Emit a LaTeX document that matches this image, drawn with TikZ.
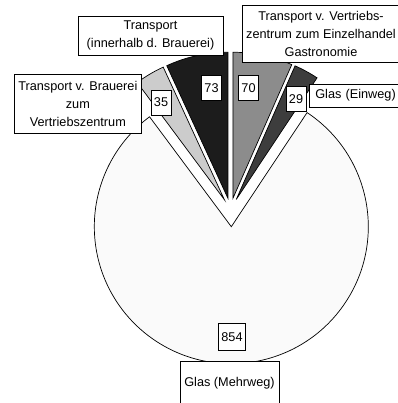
\documentclass[tikz,border=0pt]{standalone}
\usepackage{fontspec}
\setmainfont{Liberation Sans}
\usetikzlibrary{calc}
\definecolor{cMehr}{gray}{0.98}
\definecolor{cVZ}{gray}{0.55}
\definecolor{cEin}{gray}{0.24}
\definecolor{cBV}{gray}{0.80}
\definecolor{cIn}{gray}{0.11}
\begin{document}
\begin{tikzpicture}[x=1pt,y=1pt,
  slice/.style={draw=black, line width=0.7pt, line join=miter},
  lbl/.style={font=\fontsize{12.7}{18}\selectfont},
  valbox/.style={lbl, draw=black, fill=white, line width=0.6pt, inner xsep=3pt, inner ysep=0pt, minimum height=25pt},
  catbox/.style={lbl, draw=black, fill=white, line width=0.6pt, inner sep=0pt, align=center},
  cattext/.style={lbl, inner sep=0pt, align=center}
]
\useasboundingbox (0,0) rectangle (397,403);
\fill[white] (0,0) rectangle (397,403);
% centres
\coordinate (B) at (231.3,176.3);
\coordinate (Cs) at (230.5,193);
\coordinate (A70) at ($(Cs)+(78.125:12pt)$);
\coordinate (A29) at ($(Cs)+(61.329:12pt)$);
\coordinate (A35) at ($(Cs)+(120.707:12pt)$);
\coordinate (A73) at ($(Cs)+(102.385:12pt)$);
% slices
\filldraw[slice, fill=cMehr] (B) -- ++(56.409:137pt) arc[start angle=56.409, end angle=-233.355, radius=137pt] -- cycle;
\filldraw[slice, fill=cVZ] (A70) -- ++(90:146pt) arc[start angle=90, end angle=66.249, radius=146pt] -- cycle;
\filldraw[slice, fill=cEin] (A29) -- ++(66.249:146pt) arc[start angle=66.249, end angle=56.409, radius=146pt] -- cycle;
\filldraw[slice, fill=cBV] (A35) -- ++(126.645:146pt) arc[start angle=126.645, end angle=114.769, radius=146pt] -- cycle;
\filldraw[slice, fill=cIn] (A73) -- ++(114.769:146pt) arc[start angle=114.769, end angle=90, radius=146pt] -- cycle;
% value labels
\node[valbox] (v73) at (211.5,315) {73};
\node[valbox] (v70) at (248.5,315) {70};
\node[valbox] (v29) at (296,304) {29};
\node[valbox] (v35) at (161,300.5) {35};
\node[valbox, minimum height=27pt] (v854) at (232,66) {854};
% category labels
\node[catbox, minimum width=145pt, minimum height=39pt] (lIn) at (150.5,367.5) {Transport\\(innerhalb d. Brauerei)};
\node[catbox, minimum width=160pt, minimum height=57pt, anchor=north west] (lVZbox) at (242,398) {};
\node[cattext] (lVZ) at (321,369.5) {Transport v. Vertriebs-\\zentrum zum Einzelhandel\\Gastronomie};
\node[catbox, minimum width=95pt, minimum height=23.3pt, anchor=west, text width=83pt, inner xsep=6pt, align=left] (lEin) at (309,307.3) {Glas (Einweg)};
\node[catbox, minimum width=127.7pt, minimum height=59.3pt] (lBV) at (77.85,299.35) {Transport v. Brauerei\\zum\\Vertriebszentrum};
\node[catbox, minimum width=99pt, minimum height=44pt] (lMehr) at (229.5,20) {Glas (Mehrweg)};
\end{tikzpicture}
\end{document}
